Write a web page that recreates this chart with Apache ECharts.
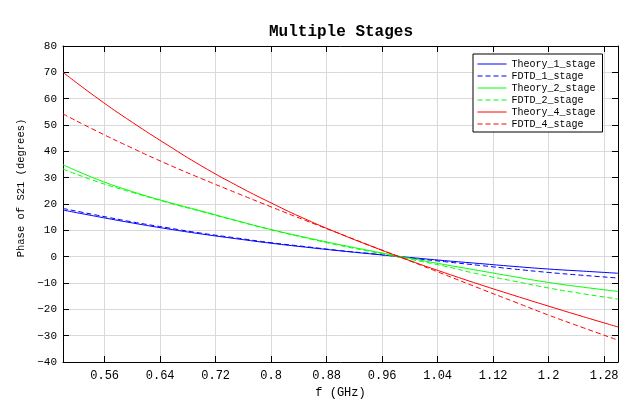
<!DOCTYPE html>
<html>
<head>
<meta charset="utf-8">
<script src="https://cdn.jsdelivr.net/npm/echarts@6/dist/echarts.min.js"></script>
<style>html,body{margin:0;padding:0;background:#fff}#c{width:640px;height:418px}</style>
</head>
<body>
<div id="c"></div>
<script>
// ---- data ----
const freq = [0.50,0.55,0.60,0.65,0.70,0.75,0.80,0.85,0.90,0.95,1.00,1.05,1.10,1.15,1.20,1.25,1.30];
const theory1 = [17.7,15.2,12.8,10.6,8.6,6.8,5.1,3.6,2.2,0.9,-0.3,-1.5,-2.6,-3.7,-4.7,-5.5,-6.3];
const fdtd1   = [18.3,15.7,13.2,11.0,8.9,7.1,5.3,3.8,2.3,1.0,-0.5,-1.9,-3.3,-4.7,-6.0,-7.1,-8.1];
const theory2 = [34.9,29.3,24.7,20.8,17.3,13.7,10.3,7.3,4.5,1.9,-0.6,-3.0,-5.3,-7.6,-9.8,-11.6,-13.2];
const fdtd2   = [33.3,28.4,24.4,20.6,17.1,13.6,10.2,7.1,4.2,1.6,-1.0,-3.6,-6.7,-9.3,-11.9,-14.1,-16.1];
const theory4 = [70.0,60.1,51.0,42.5,34.4,27.1,20.4,14.2,8.6,3.4,-1.5,-6.1,-10.5,-14.7,-18.8,-22.8,-26.7];
const fdtd4   = [54.2,47.5,41.2,35.2,29.6,24.2,18.9,13.7,8.6,3.5,-1.6,-6.8,-12.0,-17.1,-22.2,-27.0,-31.7];
const seriesNames = ['Theory_1_stage','FDTD_1_stage','Theory_2_stage','FDTD_2_stage','Theory_4_stage','FDTD_4_stage'];
const xTicks = [0.56,0.64,0.72,0.8,0.88,0.96,1.04,1.12,1.2,1.28];
const titleText = 'Multiple Stages';
const xName = 'f (GHz)';
const yName = 'Phase of S21 (degrees)';

const FONT = 'Liberation Mono';
const pair = arr => freq.map((f, i) => [f, arr[i]]);
const allData = [theory1, fdtd1, theory2, fdtd2, theory4, fdtd4];
const colors = ['#0000ff','#0000ff','#00ff00','#00ff00','#ff0000','#ff0000'];
const dashed = [false,true,false,true,false,true];

const chart = echarts.init(document.getElementById('c'));
const tickStyle = {show:true, inside:true, length:6, lineStyle:{color:'#000', width:1}};
chart.setOption({
  animation: false,
  backgroundColor: '#fff',
  title: {
    text: titleText, left: 264, top: 19,
    textStyle: {fontFamily: FONT, fontWeight: 'bold', fontSize: 16, color: '#000'}
  },
  legend: {
    orient: 'vertical', left: 473, top: 54,
    padding: [4, 7, 2, 4], itemGap: 0, itemWidth: 29, itemHeight: 12,
    backgroundColor: '#fff', borderColor: '#000', borderWidth: 1, borderRadius: 0,
    itemStyle: {opacity: 0, color: 'rgba(0,0,0,0)', borderWidth: 0},
    lineStyle: {width: 1},
    textStyle: {fontFamily: FONT, fontSize: 10, color: '#000', lineHeight: 12, padding: [0,0,0,0]},
    data: seriesNames
  },
  grid: {left: 63, right: 22, top: 46, bottom: 56, containLabel: false},
  xAxis: [{
    type: 'value', min: 0.5, max: 1.3,
    name: xName, nameLocation: 'middle', nameGap: 21,
    nameTextStyle: {fontFamily: FONT, fontSize: 12, color: '#000'},
    axisLine: {show: true, onZero: false, lineStyle: {color: '#000', width: 1}},
    axisTick: Object.assign({customValues: xTicks}, tickStyle),
    axisLabel: {customValues: xTicks, fontFamily: FONT, fontSize: 12, color: '#000', margin: 8},
    splitLine: {show: true, lineStyle: {color: '#d9d9d9', width: 1}}
  }, {
    type: 'value', min: 0.5, max: 1.3, position: 'top',
    axisLine: {show: true, onZero: false, lineStyle: {color: '#000', width: 1}},
    axisTick: Object.assign({customValues: xTicks}, tickStyle),
    axisLabel: {show: false, customValues: xTicks},
    splitLine: {show: false}
  }],
  yAxis: [{
    type: 'value', min: -40, max: 80, interval: 10,
    name: yName, nameLocation: 'middle', nameGap: 31,
    nameTextStyle: {fontFamily: FONT, fontSize: 10.5, color: '#000', padding: [0, 0, 0, 32]},
    axisLine: {show: true, onZero: false, lineStyle: {color: '#000', width: 1}},
    axisTick: tickStyle,
    axisLabel: {fontFamily: FONT, fontSize: 11, color: '#000', margin: 6,
      formatter: v => String(v).replace('-', '\u2212')},
    splitLine: {show: true, lineStyle: {color: '#d9d9d9', width: 1}}
  }, {
    type: 'value', min: -40, max: 80, interval: 10, position: 'right',
    axisLine: {show: true, onZero: false, lineStyle: {color: '#000', width: 1}},
    axisTick: tickStyle,
    axisLabel: {show: false},
    splitLine: {show: false}
  }],
  series: seriesNames.map((n, i) => ({
    name: n, type: 'line', xAxisIndex: 0, yAxisIndex: 0,
    data: pair(allData[i]), smooth: true, symbol: 'none',
    color: colors[i],
    lineStyle: {color: colors[i], width: 1, type: dashed[i] ? [5, 3] : 'solid'}
  }))
});
</script>
</body>
</html>
